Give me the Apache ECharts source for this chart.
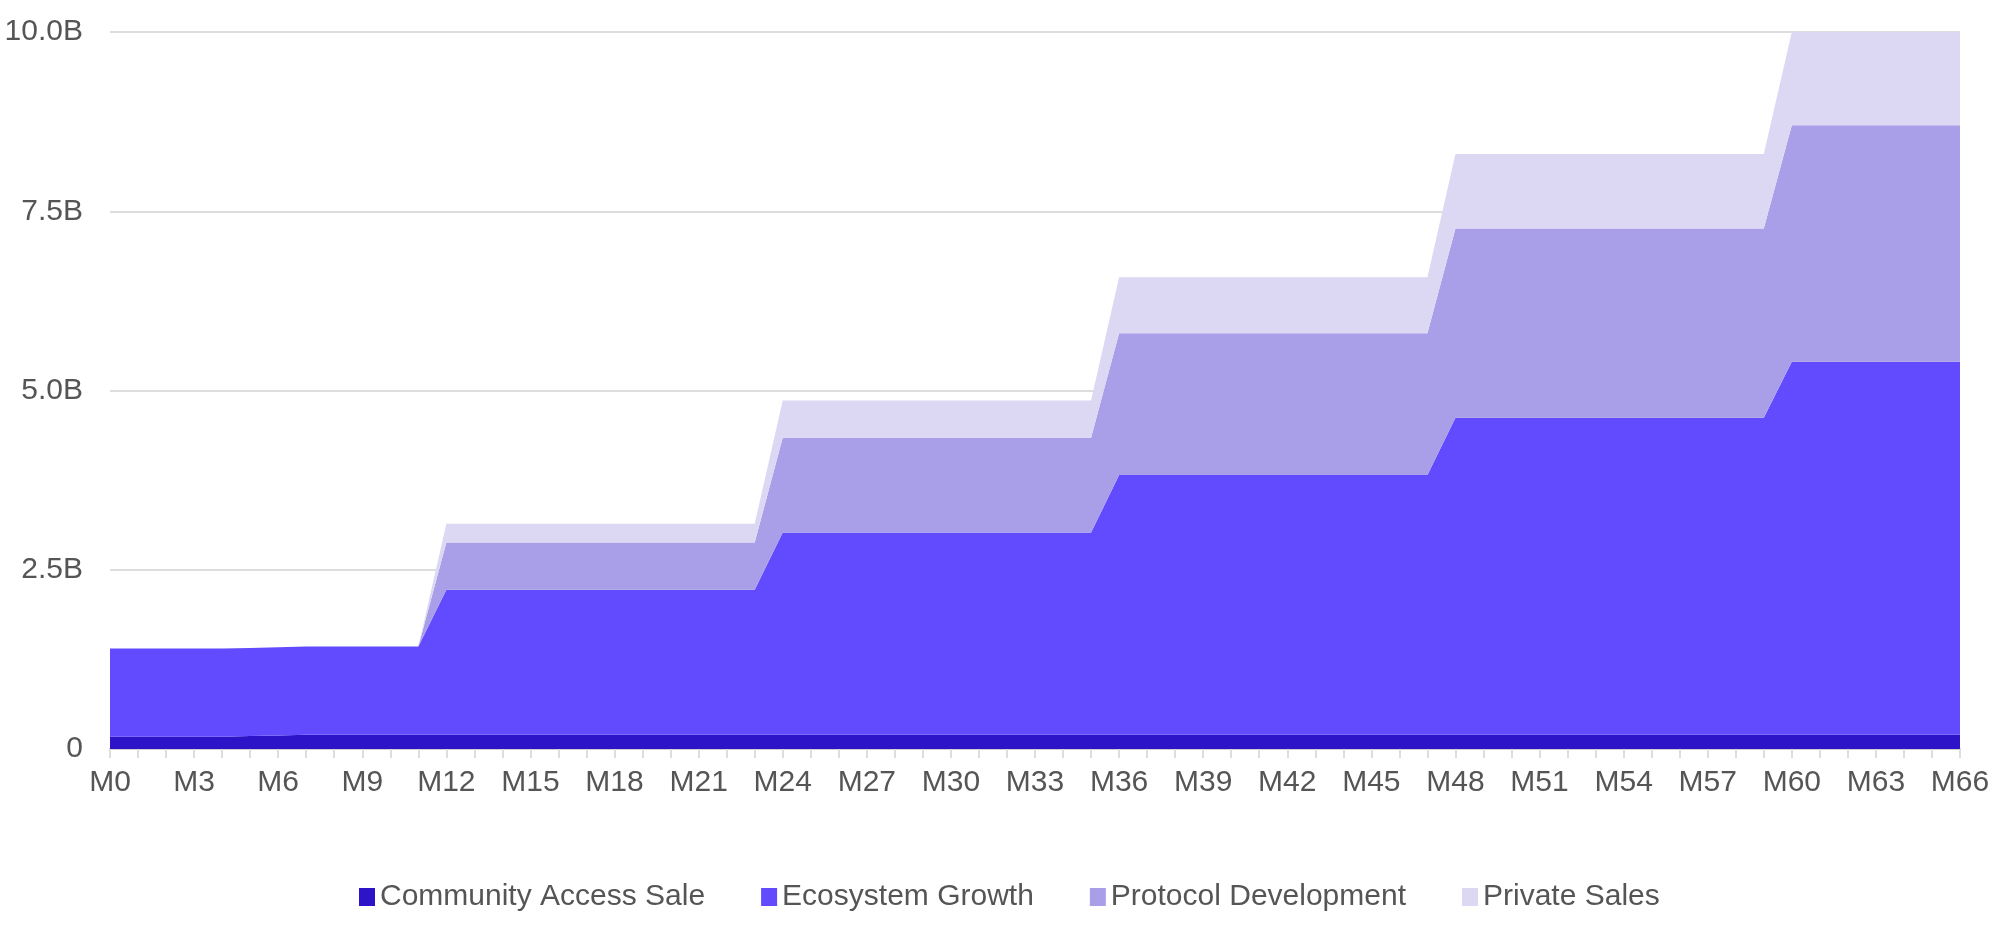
<!DOCTYPE html>
<html lang="en">
<head>
<meta charset="UTF-8">
<title>Token unlock schedule</title>
<script src="https://cdn.jsdelivr.net/npm/echarts@6/dist/echarts.min.js"></script>
<style>
  html, body { margin: 0; padding: 0; background: #fff; }
  #main { width: 2000px; height: 946px; }
</style>
</head>
<body>
<div id="main"></div>
<script>
// months M0 .. M66
var months = [];
for (var i = 0; i <= 66; i++) months.push('M' + i);

// unlocked supply per allocation, in billions
var communityAccessSale = [
  0.17, 0.17, 0.17, 0.17, 0.17, 0.18, 0.19, 0.2, 0.2, 0.2, 0.2, 0.2,
  0.2, 0.2, 0.2, 0.2, 0.2, 0.2, 0.2, 0.2, 0.2, 0.2, 0.2, 0.2,
  0.2, 0.2, 0.2, 0.2, 0.2, 0.2, 0.2, 0.2, 0.2, 0.2, 0.2, 0.2,
  0.2, 0.2, 0.2, 0.2, 0.2, 0.2, 0.2, 0.2, 0.2, 0.2, 0.2, 0.2,
  0.2, 0.2, 0.2, 0.2, 0.2, 0.2, 0.2, 0.2, 0.2, 0.2, 0.2, 0.2,
  0.2, 0.2, 0.2, 0.2, 0.2, 0.2, 0.2
];
var ecosystemGrowth = [
  1.23, 1.23, 1.23, 1.23, 1.23, 1.23, 1.23, 1.23, 1.23, 1.23, 1.23, 1.23,
  2.02, 2.02, 2.02, 2.02, 2.02, 2.02, 2.02, 2.02, 2.02, 2.02, 2.02, 2.02,
  2.82, 2.82, 2.82, 2.82, 2.82, 2.82, 2.82, 2.82, 2.82, 2.82, 2.82, 2.82,
  3.62, 3.62, 3.62, 3.62, 3.62, 3.62, 3.62, 3.62, 3.62, 3.62, 3.62, 3.62,
  4.42, 4.42, 4.42, 4.42, 4.42, 4.42, 4.42, 4.42, 4.42, 4.42, 4.42, 4.42,
  5.2, 5.2, 5.2, 5.2, 5.2, 5.2, 5.2
];
var protocolDevelopment = [
  0, 0, 0, 0, 0, 0, 0, 0, 0, 0, 0, 0,
  0.66, 0.66, 0.66, 0.66, 0.66, 0.66, 0.66, 0.66, 0.66, 0.66, 0.66, 0.66,
  1.32, 1.32, 1.32, 1.32, 1.32, 1.32, 1.32, 1.32, 1.32, 1.32, 1.32, 1.32,
  1.98, 1.98, 1.98, 1.98, 1.98, 1.98, 1.98, 1.98, 1.98, 1.98, 1.98, 1.98,
  2.64, 2.64, 2.64, 2.64, 2.64, 2.64, 2.64, 2.64, 2.64, 2.64, 2.64, 2.64,
  3.3, 3.3, 3.3, 3.3, 3.3, 3.3, 3.3
];
var privateSales = [
  0, 0, 0, 0, 0, 0, 0, 0, 0, 0, 0, 0,
  0.26, 0.26, 0.26, 0.26, 0.26, 0.26, 0.26, 0.26, 0.26, 0.26, 0.26, 0.26,
  0.52, 0.52, 0.52, 0.52, 0.52, 0.52, 0.52, 0.52, 0.52, 0.52, 0.52, 0.52,
  0.78, 0.78, 0.78, 0.78, 0.78, 0.78, 0.78, 0.78, 0.78, 0.78, 0.78, 0.78,
  1.04, 1.04, 1.04, 1.04, 1.04, 1.04, 1.04, 1.04, 1.04, 1.04, 1.04, 1.04,
  1.3, 1.3, 1.3, 1.3, 1.3, 1.3, 1.3
];

var seriesNames = ['Community Access Sale', 'Ecosystem Growth', 'Protocol Development', 'Private Sales'];
var seriesData = [communityAccessSale, ecosystemGrowth, protocolDevelopment, privateSales];
var colors = ['#2d14c8', '#624bff', '#a99fe9', '#dcd8f3'];

var font = 'Liberation Sans, Arial, Helvetica, sans-serif';

var series = seriesNames.map(function (name, k) {
  return {
    name: name,
    type: 'line',
    stack: 'total',
    data: seriesData[k],
    symbol: 'none',
    smooth: false,
    lineStyle: { width: 0 },
    areaStyle: { color: colors[k], opacity: 1 },
    itemStyle: { color: colors[k] },
    emphasis: { disabled: true }
  };
});

var option = {
  backgroundColor: '#ffffff',
  animation: false,
  textStyle: { fontFamily: font },
  grid: { left: 110, right: 40, top: 32, bottom: 197 },
  legend: {
    data: seriesNames,
    bottom: 29,
    left: 354,
    icon: 'rect',
    itemWidth: 16,
    itemHeight: 18,
    itemGap: 56,
    textStyle: { fontSize: 30, color: '#555', fontFamily: font }
  },
  xAxis: {
    type: 'category',
    data: months,
    boundaryGap: false,
    axisLine: { lineStyle: { color: '#cccccc', width: 2 } },
    axisTick: { show: true, interval: 0, length: 9, lineStyle: { color: '#dddddd', width: 2 } },
    axisLabel: { interval: 2, fontSize: 30, color: '#555', margin: 19, fontFamily: font }
  },
  yAxis: {
    type: 'value',
    min: 0,
    max: 10,
    interval: 2.5,
    axisLine: { show: false },
    axisTick: { show: false },
    splitLine: { lineStyle: { color: '#dddddd', width: 2 } },
    axisLabel: {
      fontSize: 30,
      color: '#555',
      margin: 27,
      fontFamily: font,
      formatter: function (v) { return v === 0 ? '0' : v.toFixed(1) + 'B'; }
    }
  },
  series: series
};

var myChart = echarts.init(document.getElementById('main'));
myChart.setOption(option);
</script>
</body>
</html>
